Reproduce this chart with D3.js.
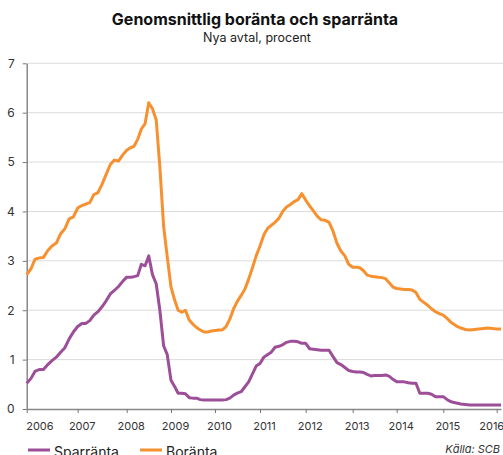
<!DOCTYPE html>
<html>
<head>
<meta charset="utf-8">
<script src="https://cdn.jsdelivr.net/npm/d3@7"></script>
<style>
body { margin: 0; background: #fff; }
text { font-family: Inter, "Noto Sans", sans-serif; }
</style>
</head>
<body>
<svg id="chart" width="503" height="455"></svg>
<script>
// monthly values, Jan 2006 - Feb 2016
var boranta = [
    2.72, 2.84, 3.03, 3.06, 3.07, 3.21, 3.30, 3.36, 3.55, 3.65, 3.85, 3.89,
    4.07, 4.12, 4.15, 4.18, 4.34, 4.38, 4.55, 4.75, 4.95, 5.04, 5.02, 5.14,
    5.24, 5.29, 5.32, 5.46, 5.67, 5.78, 6.20, 6.08, 5.85, 4.90, 3.70, 3.08,
    2.47, 2.20, 2.00, 1.96, 2.00, 1.80, 1.72, 1.65, 1.60, 1.56, 1.56, 1.58,
    1.59, 1.60, 1.60, 1.67, 1.82, 2.03, 2.18, 2.30, 2.43, 2.63, 2.86, 3.10,
    3.30, 3.53, 3.65, 3.72, 3.78, 3.86, 4.00, 4.09, 4.14, 4.20, 4.24, 4.36,
    4.23, 4.11, 4.01, 3.90, 3.83, 3.82, 3.78, 3.60, 3.35, 3.20, 3.10, 2.93,
    2.87, 2.87, 2.86, 2.80, 2.71, 2.69, 2.68, 2.67, 2.66, 2.64, 2.55, 2.47,
    2.44, 2.43, 2.42, 2.42, 2.41, 2.36, 2.22, 2.16, 2.10, 2.03, 1.97, 1.93,
    1.90, 1.82, 1.74, 1.68, 1.64, 1.61, 1.60, 1.61, 1.62, 1.63, 1.64, 1.63,
    1.62, 1.62
];
var sparranta = [
    0.52, 0.62, 0.76, 0.80, 0.80, 0.90, 0.98, 1.05, 1.15, 1.24, 1.42, 1.56,
    1.67, 1.73, 1.73, 1.79, 1.90, 1.97, 2.07, 2.19, 2.33, 2.40, 2.48, 2.58,
    2.67, 2.67, 2.68, 2.70, 2.93, 2.90, 3.10, 2.72, 2.53, 2.00, 1.28, 1.10,
    0.58, 0.45, 0.32, 0.32, 0.31, 0.23, 0.22, 0.22, 0.19, 0.18, 0.18, 0.18,
    0.18, 0.18, 0.18, 0.19, 0.22, 0.28, 0.32, 0.35, 0.45, 0.55, 0.71, 0.87,
    0.92, 1.05, 1.10, 1.15, 1.25, 1.27, 1.30, 1.35, 1.37, 1.37, 1.36, 1.33,
    1.33, 1.22, 1.21, 1.20, 1.19, 1.19, 1.19, 1.06, 0.94, 0.90, 0.84, 0.78,
    0.76, 0.75, 0.75, 0.74, 0.70, 0.67, 0.68, 0.68, 0.68, 0.69, 0.66, 0.60,
    0.55, 0.55, 0.55, 0.53, 0.52, 0.52, 0.32, 0.32, 0.32, 0.30, 0.25, 0.25,
    0.25, 0.18, 0.14, 0.12, 0.10, 0.09, 0.08, 0.08, 0.08, 0.08, 0.08, 0.08,
    0.08, 0.08
];
var yTicks = [0, 1, 2, 3, 4, 5, 6, 7];
var xTickYears = [2006, 2007, 2008, 2009, 2010, 2011, 2012, 2013, 2014, 2015, 2016];
var seriesNames = ["Sparränta", "Boränta"];
var seriesColors = ["#9c4f98", "#f7902f"];

var months = boranta.map(function(d, i) { return new Date(2006, i, 1); });

var svg = d3.select("#chart");

// the source axis is not evenly spaced, so the year positions are pinned
var yearPx = [26.7, 77.7, 126.7, 171, 215, 260, 305.7, 352.7, 396.7, 443.3, 496.7, 501];
var x = d3.scaleTime()
    .domain(xTickYears.map(function(y) { return new Date(y, 0, 1); }).concat([new Date(2016, 1, 1)]))
    .range(yearPx);
var y = d3.scaleLinear().domain([0, 7]).range([409, 63.3]);

// gridlines
svg.append("g").selectAll("line").data(yTicks.slice(1)).enter().append("line")
    .attr("x1", 27).attr("x2", 503)
    .attr("y1", function(d) { return y(d); })
    .attr("y2", function(d) { return y(d); })
    .attr("stroke", "#dcdcdc").attr("stroke-width", 1);

// y axis
var yAxis = svg.append("g").attr("transform", "translate(26.7,0)")
    .call(d3.axisLeft(y).tickValues(yTicks).tickFormat(d3.format("d"))
        .tickSize(4).tickSizeOuter(0).tickPadding(8));
yAxis.select(".domain").attr("stroke", "#777").attr("stroke-width", 1.3);
yAxis.selectAll(".tick line").attr("stroke", "#777");
yAxis.selectAll("text").attr("font-size", 12).attr("fill", "#333");

// x axis
var xAxis = svg.append("g").attr("transform", "translate(0,409)")
    .call(d3.axisBottom(x)
        .tickValues(xTickYears.map(function(y) { return new Date(y, 0, 1); }))
        .tickFormat(d3.timeFormat("%Y"))
        .tickSize(4).tickSizeOuter(0).tickPadding(9));
xAxis.select(".domain").attr("stroke", "#888").attr("stroke-width", 1.3);
xAxis.selectAll(".tick line").attr("stroke", "#777");
xAxis.selectAll("text").attr("font-size", 11).attr("fill", "#333")
    .attr("text-anchor", function(d, i) { return i == 0 ? "start" : (i == xTickYears.length - 1 ? "end" : "middle"); })
    .attr("dx", function(d, i) { return i == 0 ? -1 : (i == xTickYears.length - 1 ? 7 : 4); });

// lines
var line = d3.line()
    .x(function(d, i) { return x(months[i]); })
    .y(function(d) { return y(d); });

[sparranta, boranta].forEach(function(s, k) {
    svg.append("path").datum(s)
        .attr("d", line)
        .attr("fill", "none")
        .attr("stroke", seriesColors[k])
        .attr("stroke-width", 3)
        .attr("stroke-linejoin", "round");
});

// title
svg.append("text").attr("x", 255).attr("y", 25).attr("text-anchor", "middle")
    .attr("font-size", 16).attr("font-weight", "bold").attr("fill", "#111")
    .text("Genomsnittlig boränta och sparränta");
svg.append("text").attr("x", 257).attr("y", 42).attr("text-anchor", "middle")
    .attr("font-size", 12.5).attr("fill", "#222")
    .text("Nya avtal, procent");

// legend (cut at the bottom edge as in the source)
var legX = [28, 140];
seriesNames.forEach(function(n, k) {
    svg.append("line").attr("x1", legX[k]).attr("x2", legX[k] + 22)
        .attr("y1", 450).attr("y2", 450)
        .attr("stroke", seriesColors[k]).attr("stroke-width", 3);
    svg.append("text").attr("x", legX[k] + 26).attr("y", 457)
        .attr("font-size", 14).attr("fill", "#222").text(n);
});

svg.append("text").attr("x", 500).attr("y", 453).attr("text-anchor", "end")
    .attr("font-size", 11).attr("font-style", "italic").attr("fill", "#333")
    .text("Källa: SCB");
</script>
</body>
</html>
